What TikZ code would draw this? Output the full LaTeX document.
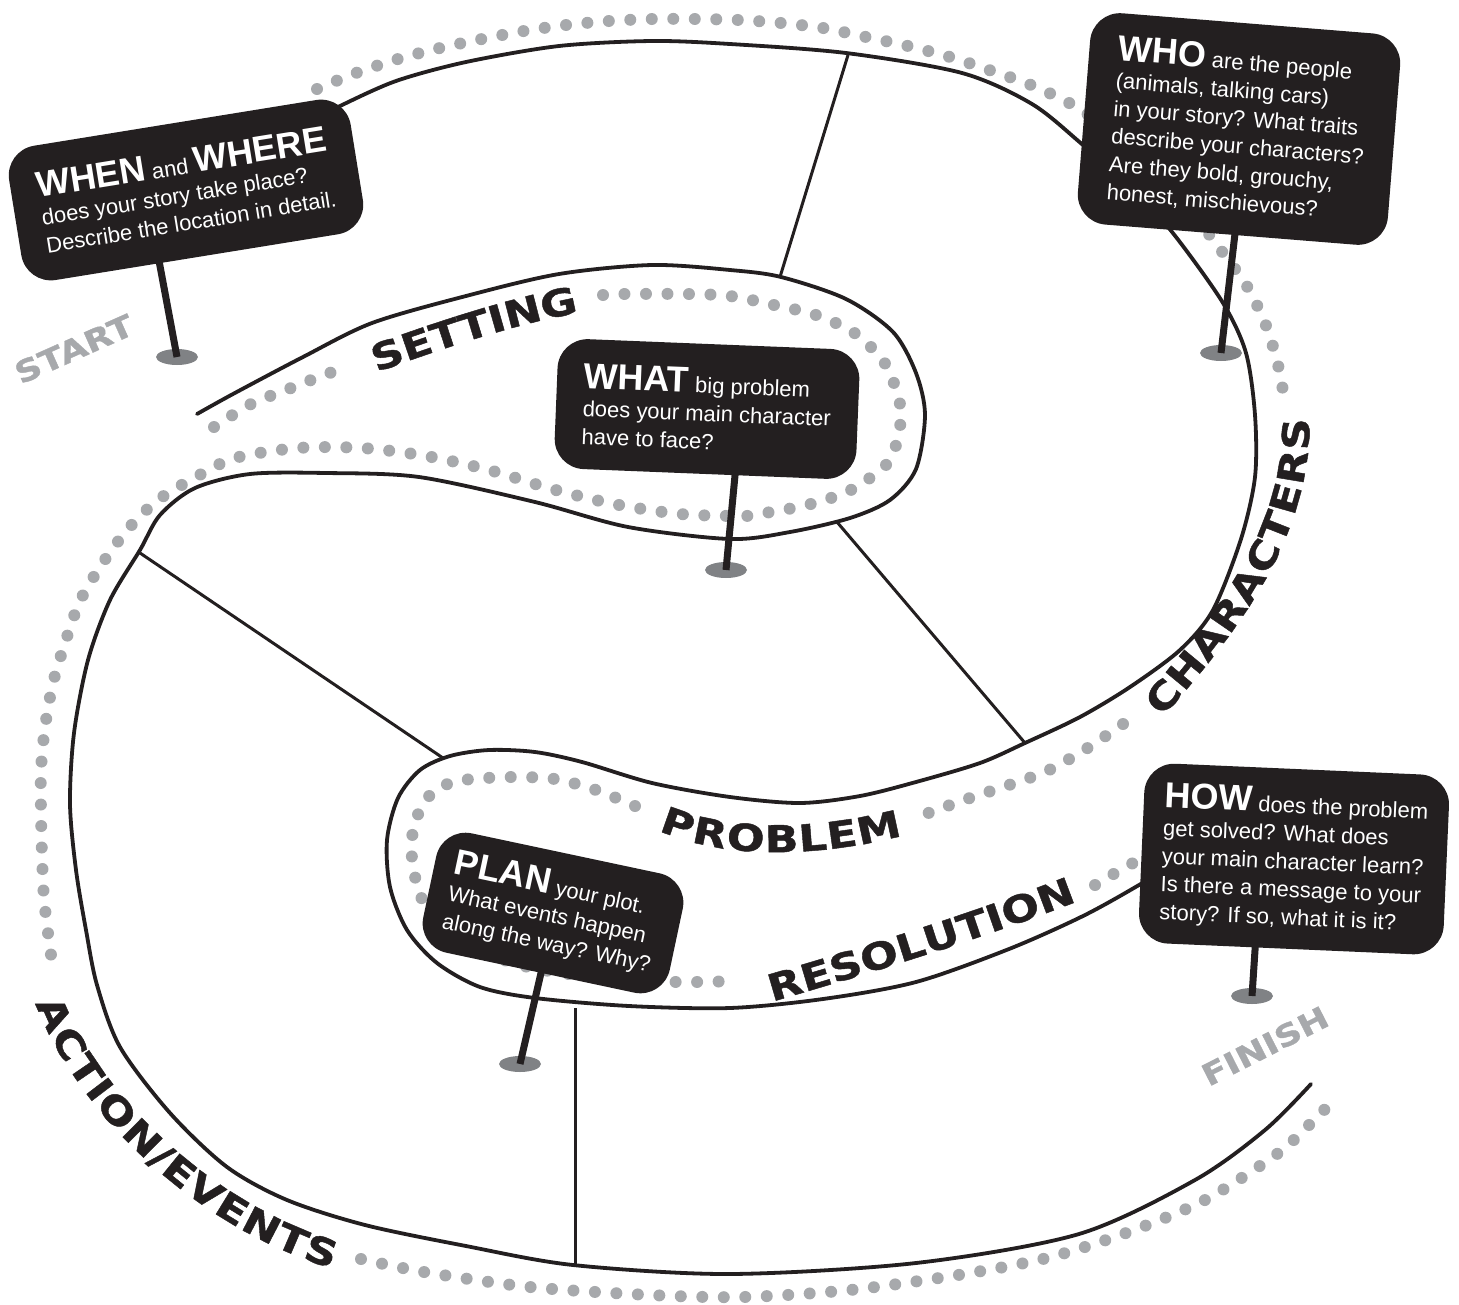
\documentclass[tikz,border=0pt]{standalone}
\usepackage{fontspec}
\usepackage{tikz}
\usetikzlibrary{decorations.text,shapes.geometric}
\newfontfamily\signfamily{Liberation Sans}
\newfontfamily\roadfamily[FakeStretch=1.2,FakeBold=1.2]{DejaVu Sans}
\definecolor{ink}{HTML}{231F20}
\definecolor{dotgray}{HTML}{A7A9AC}
\definecolor{footgray}{HTML}{808285}
\newcommand{\bigword}[1]{{\fontsize{36}{36}\selectfont\bfseries #1}}
\newcommand{\roadfont}{\roadfamily\bfseries\fontsize{37}{37}\selectfont}

\begin{document}
\begin{tikzpicture}[
    x=1pt, y=-1pt,
    road/.style={ink, line width=3.8pt, line cap=round},
    divider/.style={ink, line width=3pt},
    track/.style={dotgray, line width=12pt, line cap=round, dash pattern=on 0pt off 21.5pt},
    sign/.style={rectangle, fill=ink, text=white, rounded corners=30pt, align=left, font=\signfamily\fontsize{22}{28}\selectfont, inner sep=0pt},
    foot/.style={ellipse, fill=footgray, minimum width=42pt, minimum height=16pt, inner sep=0pt},
    pole/.style={ink, line width=7pt},
    endmark/.style={text=dotgray, font=\roadfamily\bfseries\fontsize{30}{30}\selectfont, inner sep=0pt},
    roadlabel/.style={decorate, decoration={text along path, text align=center, raise=-13.5pt, text color=ink}}
]
\useasboundingbox (0,0) rectangle (1459,1304);

% dotted tracks
\draw[track] plot[smooth] coordinates {(317,89) (356,73) (398,59) (440,48) (482,39) (524,31) (566,25) (609,21) (652,19) (695,19) (739,20) (781,23) (823,28) (866,37) (908,46) (950,57) (992,71) (1031,85) (1071,104) (1110,130) (1150,165) (1190,210) (1223,253) (1248,288) (1267,328) (1279,369) (1284,398)};
\draw[track] plot[smooth] coordinates {(1123,724) (1086,749) (1047,771) (1006,786) (964,800) (923,815)};
\draw[track] plot[smooth] coordinates {(635,806) (596,790) (555,779) (513,777) (472,779) (450,783) (432,793) (420,810) (413,830) (412,850) (413,868) (425,905) (460,940) (520,965) (600,978) (677,982) (735,981)};
\draw[track] plot[smooth] coordinates {(1095,885) (1135,862) (1175,845)};
\draw[track] plot[smooth] coordinates {(214,427) (251,404) (286,390) (324,375) (342,369)};
\draw[track] plot[smooth] coordinates {(603,295) (624,294) (688,294) (730,296) (774,305) (816,315) (856,334) (886,365) (900,404) (900,427) (895,448) (884,467) (849,491) (807,505) (765,513) (744,516) (680,514) (614,504) (552,489) (489,470) (426,456) (362,448) (298,448) (235,458) (196,477) (158,500) (128,529) (102,564) (80,601) (65,643) (53,683) (45,727) (41,770) (41,812) (42,855) (44,898) (49,941) (52,961)};
\draw[track] plot[smooth] coordinates {(361,1259) (424,1272) (530,1287) (650,1295) (744,1297) (850,1290) (958,1275) (1047,1258) (1126,1233) (1205,1200) (1277,1154) (1309,1125) (1330,1104)};

% road edges
\draw[road] plot[smooth] coordinates {(318,118) (340,106) (396,81) (466,62) (559,46) (652,41) (730,44) (846,53) (962,73) (1032,104) (1083,145) (1135,190) (1176,237) (1223,303) (1246,353) (1255,415) (1255,477) (1241,539) (1213,610) (1180,650) (1130,687) (1080,717) (1025,743) (980,763) (916,782) (860,796) (800,803) (730,797) (652,783) (582,762) (535,752) (489,750) (450,756) (420,770) (398,798) (387,840) (390,887) (407,930) (437,963) (480,987) (535,998) (629,1006) (730,1008) (823,999) (916,982) (1009,949) (1083,916) (1139,885) (1175,862)};
\draw[road] plot[smooth] coordinates {(197,414) (233,394) (303,357) (372,323) (466,296) (559,274) (652,265) (730,270) (781,277) (846,299) (893,332) (916,373) (925,415) (916,469) (890,500) (850,518) (790,532) (730,539) (628,527) (535,502) (419,477) (326,473) (250,474) (195,488) (160,515) (140,550) (110,600) (88,660) (74,733) (70,804) (76,870) (86,930) (97,985) (120,1047) (170,1113) (227,1167) (287,1200) (365,1225) (466,1246) (573,1265) (730,1274) (916,1263) (1079,1234) (1195,1180) (1265,1130) (1311,1084)};

\draw[divider] (848,55) -- (780,277);
\draw[divider] (837,522) -- (1025,743);
\draw[divider] (140,553) -- (443,758);
\draw[divider] (575,1008) -- (575,1266);

% stage names
\path[roadlabel, decoration={text={|\roadfont|SETTING}}] (335,373) .. controls (420,342) and (520,305) .. (615,293);
\path[roadlabel, decoration={text={|\roadfont|CHARACTERS}}] (1140,722) .. controls (1230,622) and (1305,525) .. (1295,400);
\path[roadlabel, decoration={text={|\roadfont|PROBLEM}}] (640,805) .. controls (705,848) and (820,848) .. (925,815);
\path[roadlabel, decoration={text={|\roadfont|RESOLUTION}}] (740,997) .. controls (850,965) and (975,928) .. (1100,878);
\path[roadlabel, decoration={text={|\roadfont|ACTION/EVENTS}}] (40,975) .. controls (75,1095) and (205,1225) .. (360,1262);

\node[endmark, rotate=24] (start) at (74,349) {START};
\node[endmark, rotate=27] (finish) at (1265,1046) {FINISH};

% sign posts
\node[foot] (when-foot) at (177,357) {};
\node[foot] (who-foot) at (1221,353) {};
\node[foot] (what-foot) at (726,570) {};
\node[foot] (plan-foot) at (520,1064) {};
\node[foot] (how-foot) at (1252,996) {};
\coordinate (when-post) at (157,250);
\coordinate (who-post) at (1236,225);
\coordinate (what-post) at (736,465);
\coordinate (plan-post) at (544,960);
\coordinate (how-post) at (1256,935);
\draw[pole] (when-foot.center) -- (when-post);
\draw[pole] (who-foot.center) -- (who-post);
\draw[pole] (what-foot.center) -- (what-post);
\draw[pole] (plan-foot.center) -- (plan-post);
\draw[pole] (how-foot.center) -- (how-post);

\node[sign, minimum width=346pt, minimum height=136pt, rotate=9.2] (when) at (186,190)
  {\bigword{WHEN} and \bigword{WHERE}\\does your story take place?\\Describe the location in detail.};
\node[sign, minimum width=311pt, minimum height=212pt, rotate=-4.6] (who) at (1239,129)
  {\bigword{WHO} are the people\\(animals, talking cars)\\in your story? What traits\\describe your characters?\\Are they bold, grouchy,\\honest, mischievous?};
\node[sign, minimum width=302pt, minimum height=130pt, rotate=-2.3] (what) at (707,409)
  {\bigword{WHAT} big problem\\does your main character\\have to face?};
\node[sign, minimum width=252pt, minimum height=122pt, rotate=-12] (plan) at (553,913)
  {\bigword{PLAN} your plot.\\What events happen\\along the way? Why?};
\node[sign, minimum width=305pt, minimum height=180pt, rotate=-2.5] (how) at (1294,859)
  {\bigword{HOW} does the problem\\get solved? What does\\your main character learn?\\Is there a message to your\\story? If so, what it is it?};
\end{tikzpicture}
\end{document}
